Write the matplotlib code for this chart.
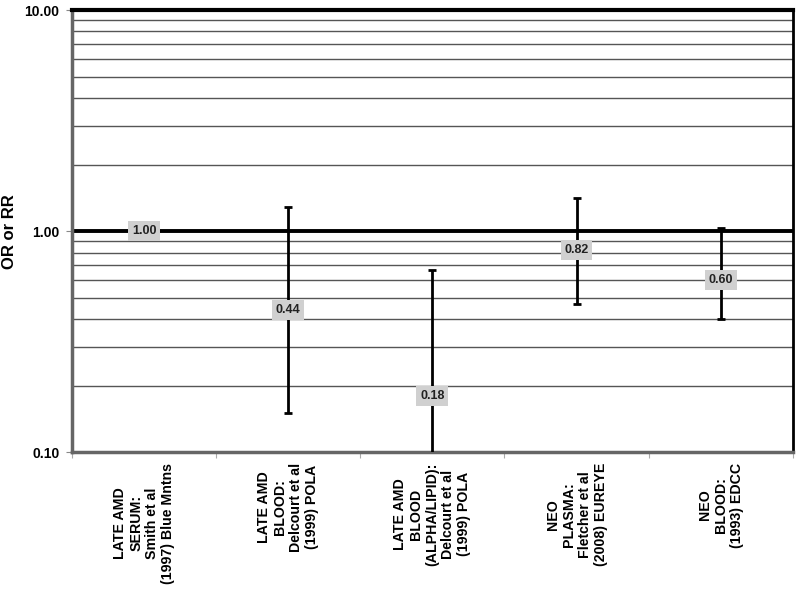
import matplotlib
matplotlib.use("Agg")
import matplotlib.pyplot as plt
import numpy as np
from matplotlib.ticker import FixedLocator, NullFormatter

plt.rcParams["font.family"] = ["Liberation Sans", "DejaVu Sans"]

labels = [
    "LATE AMD\nSERUM:\nSmith et al\n(1997) Blue Mntns",
    "LATE AMD\nBLOOD:\nDelcourt et al\n(1999) POLA",
    "LATE AMD\nBLOOD\n(ALPHA/LIPID):\nDelcourt et al\n(1999) POLA",
    "NEO\nPLASMA:\nFletcher et al\n(2008) EUREYE",
    "NEO\nBLOOD:\n(1993) EDCC",
]
estimates = [1.00, 0.44, 0.18, 0.82, 0.60]
lower = [1.00, 0.15, 0.09, 0.47, 0.40]
upper = [1.00, 1.28, 0.67, 1.41, 1.03]

fig = plt.figure(figsize=(8, 5.89), dpi=100)
ax = fig.add_axes([0.09, 0.232, 0.901, 0.751])

x = np.arange(len(labels))
ax.set_yscale("log")
ax.set_ylim(0.1, 10)
ax.set_xlim(-0.5, len(labels) - 0.5)

# horizontal grid on every minor step
minor = [v * d for d in (0.1, 1) for v in range(2, 10)]
for m in minor:
    ax.axhline(m, color="#555555", lw=1.0, zorder=1)
ax.axhline(1.0, color="black", lw=2.8, zorder=2)

yerr = [np.array(estimates) - np.array(lower), np.array(upper) - np.array(estimates)]
ax.errorbar(x, estimates, yerr=yerr, fmt="none", ecolor="black", elinewidth=2,
            capsize=3, capthick=2, zorder=3)

for xi, v in zip(x, estimates):
    ax.text(xi, v, f"{v:.2f}", ha="center", va="center", fontsize=9,
            fontweight="bold", color="#222222", zorder=4,
            bbox=dict(boxstyle="square,pad=0.3", fc="#d0d0d0", ec="none"))

ax.yaxis.set_major_locator(FixedLocator([0.1, 1, 10]))
ax.yaxis.set_minor_locator(FixedLocator(minor))
ax.yaxis.set_minor_formatter(NullFormatter())
ax.set_yticklabels(["0.10", "1.00", "10.00"], fontsize=10, fontweight="bold")
ax.tick_params(axis="y", which="major", length=4, color="#888888", pad=5)
ax.tick_params(axis="y", which="minor", length=0)
ax.set_ylabel("OR or RR", fontsize=12, fontweight="bold")
ax.yaxis.set_label_coords(-0.076, 0.5)

ax.set_xticks(np.arange(len(labels) + 1) - 0.5, minor=False)
ax.set_xticklabels([])
ax.tick_params(axis="x", length=4, color="#aaaaaa")
for xi, lab in zip(x, labels):
    ax.text(xi, -0.023, lab, transform=ax.get_xaxis_transform(), rotation=90,
            ha="center", va="top", multialignment="center",
            fontsize=10.2, fontweight="bold", linespacing=1.18)

ax.spines["top"].set_color("black")
ax.spines["top"].set_linewidth(3)
ax.spines["right"].set_color("black")
ax.spines["right"].set_linewidth(2)
ax.spines["left"].set_color("#666666")
ax.spines["left"].set_linewidth(2.5)
ax.spines["bottom"].set_color("#666666")
ax.spines["bottom"].set_linewidth(2.5)

fig.savefig("out.png", dpi=100)
